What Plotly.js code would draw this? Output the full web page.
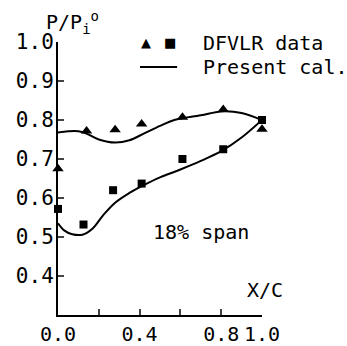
<!DOCTYPE html>
<html><head><meta charset="utf-8">
<script src="https://cdn.plot.ly/plotly-3.0.1.min.js"></script>
<style>html,body{margin:0;padding:0;background:#fff}</style>
</head><body><div id="c" style="width:347px;height:346px"></div>
<script>
// DFVLR data, 18% span
const triX = [0.0, 0.14, 0.28, 0.41, 0.61, 0.81, 1.0];
const triY = [0.675, 0.772, 0.775, 0.79, 0.807, 0.827, 0.776];
const sqX = [0.0, 0.125, 0.27, 0.41, 0.61, 0.81, 1.0];
const sqY = [0.572, 0.532, 0.62, 0.637, 0.70, 0.725, 0.80];
// Present calculation
const upX = [0.0, 0.05, 0.10, 0.14, 0.20, 0.28, 0.35, 0.42, 0.50, 0.57, 0.70, 0.80, 0.90, 1.0];
const upY = [0.768, 0.771, 0.771, 0.765, 0.750, 0.742, 0.748, 0.765, 0.785, 0.800, 0.812, 0.822, 0.818, 0.800];
const loX = [0.0, 0.03, 0.07, 0.12, 0.17, 0.22, 0.28, 0.35, 0.42, 0.50, 0.60, 0.70, 0.80, 0.90, 1.0];
const loY = [0.535, 0.517, 0.507, 0.506, 0.522, 0.555, 0.588, 0.613, 0.633, 0.653, 0.673, 0.695, 0.720, 0.755, 0.800];
const xTicks = [0.0, 0.2, 0.4, 0.6, 0.8, 1.0];
const xTickText = ["0.0", " ", "0.4", " ", "0.8", "1.0"];
const yTicks = [0.4, 0.5, 0.6, 0.7, 0.8, 0.9, 1.0];
const yTickText = ["0.4", "0.5", "0.6", "0.7", "0.8", "0.9", "1.0"];

const F = "DejaVu Sans Mono, monospace";
const traces = [
  {x: upX, y: upY, mode: 'lines', line: {color: '#000', width: 2, shape: 'spline'}, cliponaxis: false},
  {x: loX, y: loY, mode: 'lines', line: {color: '#000', width: 2, shape: 'spline'}, cliponaxis: false},
  {x: triX, y: triY, mode: 'markers', marker: {symbol: 'triangle-up', size: 10, color: '#000'}, cliponaxis: false},
  {x: sqX, y: sqY, mode: 'markers', marker: {symbol: 'square', size: 8, color: '#000'}, cliponaxis: false}
];
const layout = {
  width: 347, height: 346,
  margin: {l: 58, r: 85, t: 42, b: 31},
  showlegend: false,
  paper_bgcolor: '#fff', plot_bgcolor: '#fff',
  font: {family: F, size: 20, color: '#000'},
  xaxis: {range: [0, 1.0], tickvals: xTicks, ticktext: xTickText, ticks: 'inside', ticklen: 6, tickwidth: 2,
          showline: true, linewidth: 2, linecolor: '#000', showgrid: false, zeroline: false, fixedrange: true,
          tickfont: {family: F, size: 20}},
  yaxis: {range: [0.3, 1.0], tickvals: yTicks, ticktext: yTickText, ticks: 'inside', ticklen: 6, tickwidth: 2,
          showline: true, linewidth: 2, linecolor: '#000', showgrid: false, zeroline: false, fixedrange: true,
          ticklabelstandoff: -2, tickfont: {family: F, size: 21}},
  shapes: [
    {type: 'line', xref: 'paper', yref: 'paper', x0: 0.402, x1: 0.584, y0: 0.908, y1: 0.908, line: {color: '#000', width: 2}}
  ],
  annotations: [
    {xref: 'paper', yref: 'paper', x: -0.07, y: 1.07, xanchor: 'left', yanchor: 'middle', showarrow: false,
     text: 'P/P<sub>i</sub><sup>o</sup>', font: {family: F, size: 20}},
    {xref: 'paper', yref: 'paper', x: 0.43, y: 1.0, xanchor: 'center', yanchor: 'middle', showarrow: false,
     text: '▲', font: {family: 'DejaVu Sans', size: 13}},
    {xref: 'paper', yref: 'paper', x: 0.548, y: 1.0, xanchor: 'center', yanchor: 'middle', showarrow: false,
     text: '■', font: {family: 'DejaVu Sans', size: 13}},
    {xref: 'paper', yref: 'paper', x: 0.70, y: 0.996, xanchor: 'left', yanchor: 'middle', showarrow: false,
     text: 'DFVLR data', font: {family: F, size: 20}},
    {xref: 'paper', yref: 'paper', x: 0.70, y: 0.908, xanchor: 'left', yanchor: 'middle', showarrow: false,
     text: 'Present cal.', font: {family: F, size: 20}},
    {xref: 'paper', yref: 'paper', x: 0.701, y: 0.304, xanchor: 'center', yanchor: 'middle', showarrow: false,
     text: '18% span', font: {family: F, size: 20}},
    {xref: 'paper', yref: 'paper', x: 1.015, y: 0.092, xanchor: 'center', yanchor: 'middle', showarrow: false,
     text: 'X/C', font: {family: F, size: 20}}
  ]
};
Plotly.newPlot('c', traces, layout, {staticPlot: true, displayModeBar: false});
</script></body></html>
